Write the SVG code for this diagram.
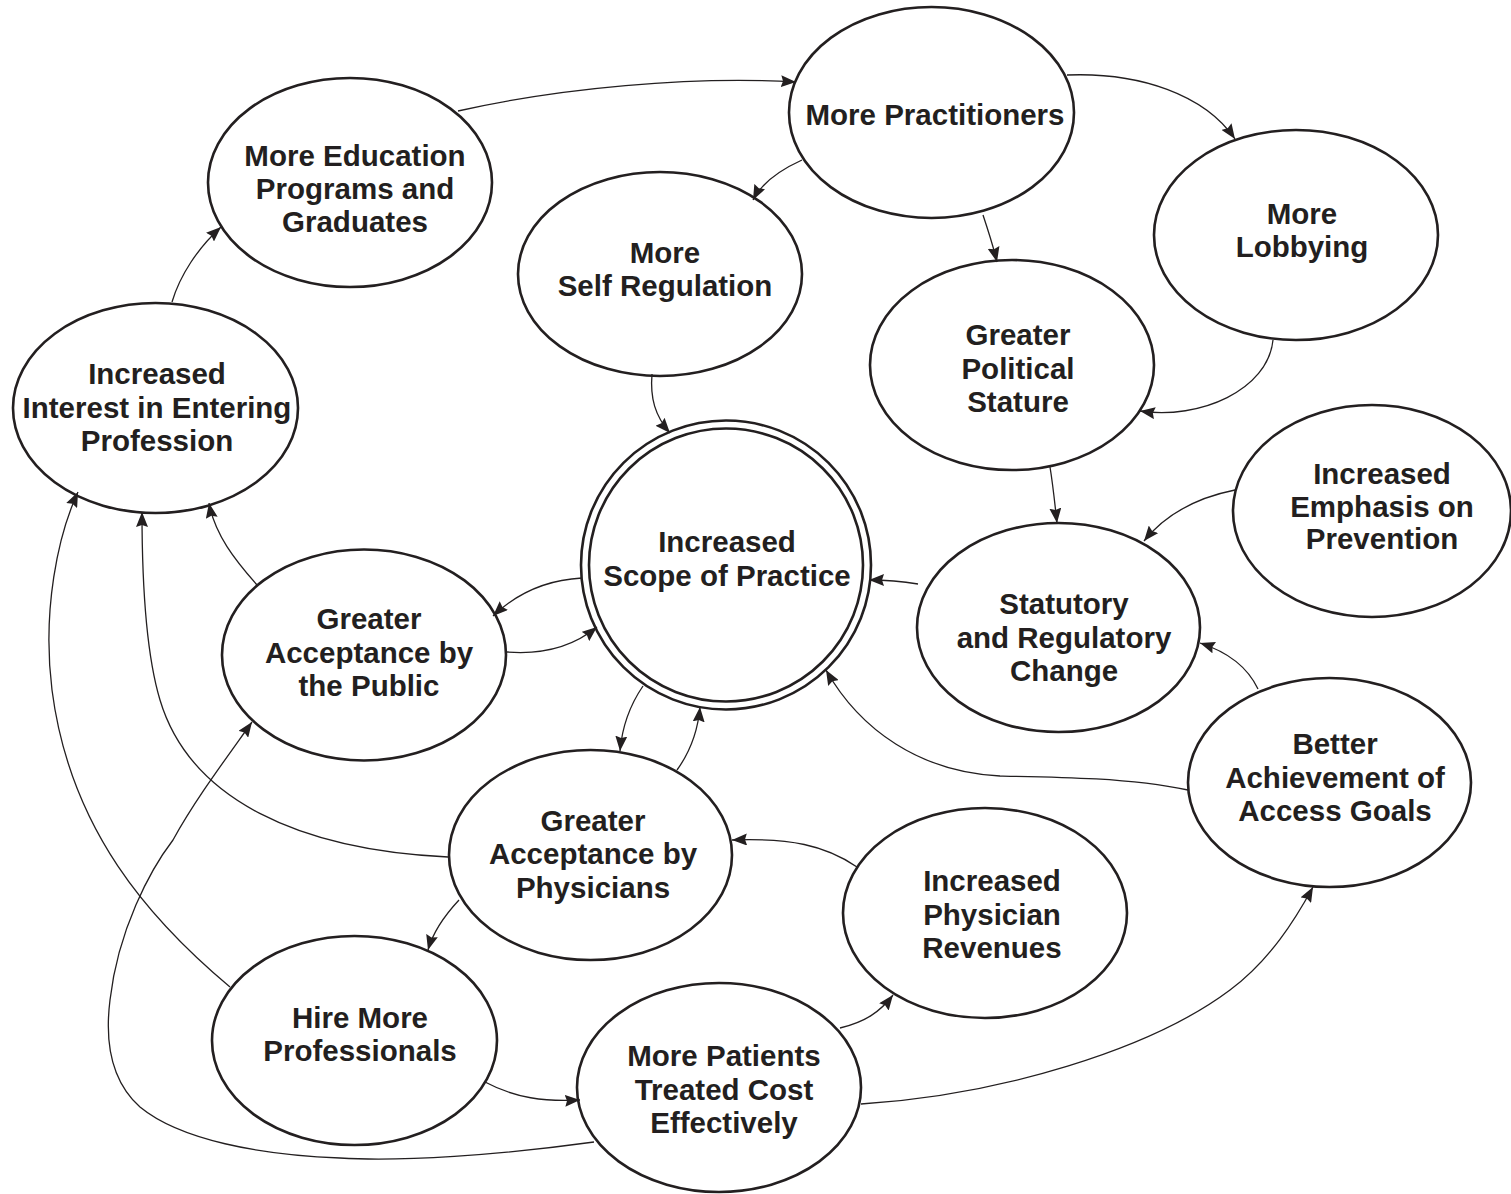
<svg xmlns="http://www.w3.org/2000/svg" width="1511" height="1194" viewBox="0 0 1511 1194">
<style>
.n{fill:none;stroke:#231f20;stroke-width:2.6}
.c{fill:none;stroke:#231f20;stroke-width:1.3;marker-end:url(#ah)}
text{font-family:"Liberation Sans",Arial,sans-serif;font-weight:bold;font-size:29.5px;text-anchor:middle;fill:#231f20}
</style>
<defs>
<marker id="ah" markerUnits="userSpaceOnUse" markerWidth="16" markerHeight="12" refX="15" refY="6" orient="auto">
<path d="M0,0 L15,6 L0,12 L2,6 z" fill="#231f20"/>
</marker>
</defs>
<rect width="1511" height="1194" fill="#fff"/>
<g id="connectors">
<path class="c" d="M458,111 C560,88 690,76 796,82"/>
<path class="c" d="M1067,75 C1140,72 1205,95 1235,139"/>
<path class="c" d="M802,160 C780,170 762,182 753,200"/>
<path class="c" d="M983,215 C988,230 993,245 997,262"/>
<path class="c" d="M1273,340 C1268,390 1200,420 1140,411"/>
<path class="c" d="M1050,467 C1053,485 1055,505 1057,523"/>
<path class="c" d="M1235,490 C1195,498 1165,515 1144,541"/>
<path class="c" d="M918,584 C900,581 885,580 869,580"/>
<path class="c" d="M1258,689 C1248,668 1228,652 1200,643"/>
<path class="c" d="M1188,790 C1130,778 1060,777 1000,776 C920,772 860,730 826,670"/>
<path class="c" d="M652,374 C650,398 655,416 670,433"/>
<path class="c" d="M582,578 C545,580 515,595 493,616"/>
<path class="c" d="M507,652 C545,655 575,645 597,627"/>
<path class="c" d="M643,686 C630,705 622,728 620,751"/>
<path class="c" d="M677,770 C690,752 698,730 700,707"/>
<path class="c" d="M257,585 C235,560 215,535 209,503"/>
<path class="c" d="M448,857 C300,850 190,800 160,700 C145,650 142,580 142,512"/>
<path class="c" d="M230,987 C150,920 70,830 52,690 C42,610 58,535 78,492"/>
<path class="c" d="M172,302 C180,275 198,248 221,227"/>
<path class="c" d="M459,900 C445,915 433,932 428,950"/>
<path class="c" d="M857,867 C825,845 790,838 732,840"/>
<path class="c" d="M485,1082 C515,1098 545,1102 580,1100"/>
<path class="c" d="M840,1028 C865,1022 880,1012 893,995"/>
<path class="c" d="M861,1104 C1000,1095 1150,1050 1230,990 C1270,960 1295,920 1313,887"/>
<path class="c" d="M594,1142 C500,1155 400,1162 340,1158 C260,1155 180,1140 140,1107 C110,1080 105,1040 110,1000 C118,930 150,870 173,840 C195,800 225,760 252,722"/>
</g>
<g id="more-practitioners"><ellipse class="n" cx="931.5" cy="112.5" rx="142.5" ry="105.5"/><text x="935" y="124.5">More Practitioners</text></g>
<g id="more-education"><ellipse class="n" cx="350" cy="182.5" rx="142" ry="104.5"/><text x="355" y="165.5">More Education</text><text x="355" y="198.5">Programs and</text><text x="355" y="232">Graduates</text></g>
<g id="self-regulation"><ellipse class="n" cx="660" cy="274" rx="142" ry="102"/><text x="665" y="262.5">More</text><text x="665" y="295.5">Self Regulation</text></g>
<g id="more-lobbying"><ellipse class="n" cx="1296" cy="235" rx="142" ry="105"/><text x="1302" y="223.5">More</text><text x="1302" y="257">Lobbying</text></g>
<g id="political-stature"><ellipse class="n" cx="1012" cy="365" rx="142" ry="105"/><text x="1018" y="345">Greater</text><text x="1018" y="378.5">Political</text><text x="1018" y="412">Stature</text></g>
<g id="interest"><ellipse class="n" cx="155.5" cy="408" rx="142.5" ry="105"/><text x="157" y="383.5">Increased</text><text x="157" y="418">Interest in Entering</text><text x="157" y="451">Profession</text></g>
<g id="scope"><ellipse class="n" cx="726" cy="565" rx="145" ry="144.5"/><ellipse class="n" cx="726" cy="565" rx="137" ry="136.5"/><text x="727" y="552">Increased</text><text x="727" y="585.5">Scope of Practice</text></g>
<g id="prevention"><ellipse class="n" cx="1372" cy="511" rx="139" ry="106"/><text x="1382" y="484">Increased</text><text x="1382" y="516.5">Emphasis on</text><text x="1382" y="549">Prevention</text></g>
<g id="statutory"><ellipse class="n" cx="1058.5" cy="627.5" rx="141.5" ry="104.5"/><text x="1064" y="613.5">Statutory</text><text x="1064" y="647.5">and Regulatory</text><text x="1064" y="680.5">Change</text></g>
<g id="public"><ellipse class="n" cx="364" cy="655" rx="142" ry="105.5"/><text x="369" y="628.5">Greater</text><text x="369" y="662.5">Acceptance by</text><text x="369" y="695.5">the Public</text></g>
<g id="access-goals"><ellipse class="n" cx="1329.5" cy="782.5" rx="141.5" ry="104.5"/><text x="1335" y="753.5">Better</text><text x="1335" y="787.5">Achievement of</text><text x="1335" y="820.5">Access Goals</text></g>
<g id="physicians"><ellipse class="n" cx="590.5" cy="855" rx="141.5" ry="105"/><text x="593" y="830.5">Greater</text><text x="593" y="863.5">Acceptance by</text><text x="593" y="897.5">Physicians</text></g>
<g id="revenues"><ellipse class="n" cx="985" cy="913" rx="142" ry="105"/><text x="992" y="890.5">Increased</text><text x="992" y="924.5">Physician</text><text x="992" y="957.5">Revenues</text></g>
<g id="hire"><ellipse class="n" cx="354.5" cy="1040.5" rx="142.5" ry="104.5"/><text x="360" y="1027.5">Hire More</text><text x="360" y="1060.5">Professionals</text></g>
<g id="patients"><ellipse class="n" cx="719" cy="1087.5" rx="142" ry="104.5"/><text x="724" y="1066">More Patients</text><text x="724" y="1099.5">Treated Cost</text><text x="724" y="1133">Effectively</text></g>
</svg>
